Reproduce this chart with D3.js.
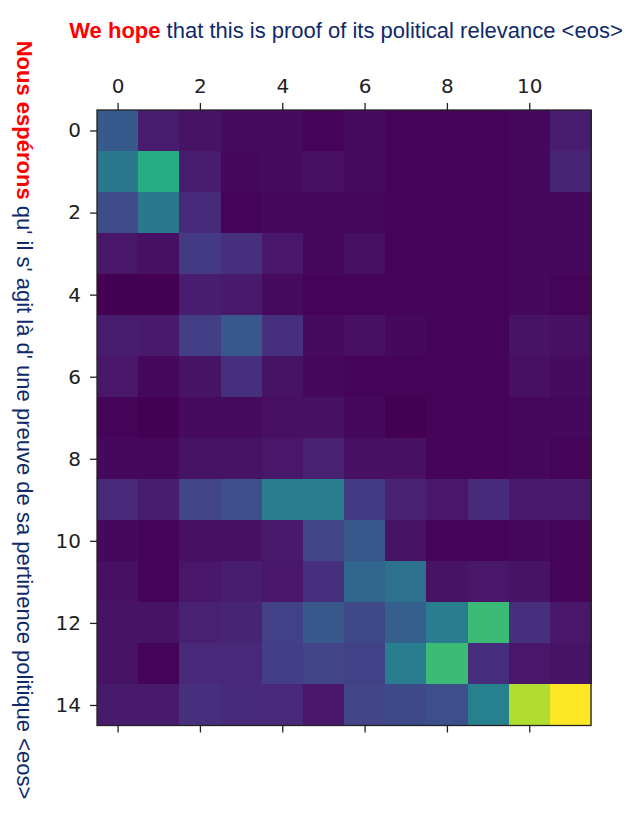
<!DOCTYPE html>
<html>
<head>
<meta charset="utf-8">
<script src="https://cdn.jsdelivr.net/npm/d3@7"></script>
<style>
  body { margin: 0; background: #fff; }
  svg { display: block; }
</style>
</head>
<body>
<script>
// source tokens (columns) and target tokens (rows)
const cols = d3.range(12)
const rows = d3.range(15)
const xTicks = [0, 2, 4, 6, 8, 10]
const yTicks = [0, 2, 4, 6, 8, 10, 12, 14]

// attention weights, one array per row (0..1)
const row0  = [0.28, 0.08, 0.05, 0.03, 0.03, 0.01, 0.03, 0.01, 0.01, 0.01, 0.02, 0.08]
const row1  = [0.40, 0.62, 0.08, 0.02, 0.03, 0.04, 0.03, 0.01, 0.01, 0.01, 0.02, 0.10]
const row2  = [0.23, 0.40, 0.12, 0.01, 0.02, 0.02, 0.02, 0.01, 0.01, 0.01, 0.02, 0.02]
const row3  = [0.06, 0.04, 0.17, 0.14, 0.06, 0.02, 0.04, 0.01, 0.01, 0.01, 0.02, 0.02]
const row4  = [0.00, 0.00, 0.08, 0.07, 0.03, 0.01, 0.01, 0.01, 0.01, 0.01, 0.02, 0.01]
const row5  = [0.08, 0.07, 0.18, 0.27, 0.14, 0.03, 0.04, 0.02, 0.01, 0.01, 0.05, 0.04]
const row6  = [0.06, 0.02, 0.05, 0.14, 0.05, 0.02, 0.01, 0.01, 0.01, 0.01, 0.04, 0.03]
const row7  = [0.01, 0.00, 0.03, 0.03, 0.04, 0.04, 0.02, 0.00, 0.01, 0.01, 0.02, 0.02]
const row8  = [0.02, 0.02, 0.05, 0.05, 0.06, 0.09, 0.04, 0.04, 0.01, 0.01, 0.02, 0.01]
const row9  = [0.11, 0.08, 0.20, 0.24, 0.42, 0.42, 0.17, 0.09, 0.06, 0.12, 0.07, 0.07]
const row10 = [0.02, 0.01, 0.04, 0.04, 0.07, 0.20, 0.27, 0.05, 0.01, 0.01, 0.02, 0.01]
const row11 = [0.04, 0.01, 0.06, 0.08, 0.06, 0.14, 0.33, 0.37, 0.05, 0.06, 0.05, 0.01]
const row12 = [0.05, 0.05, 0.09, 0.10, 0.19, 0.27, 0.22, 0.30, 0.42, 0.68, 0.14, 0.06]
const row13 = [0.05, 0.01, 0.11, 0.11, 0.18, 0.20, 0.19, 0.42, 0.68, 0.13, 0.06, 0.05]
const row14 = [0.07, 0.07, 0.14, 0.12, 0.11, 0.06, 0.20, 0.22, 0.24, 0.43, 0.88, 1.00]
const values = [row0, row1, row2, row3, row4, row5, row6, row7, row8, row9, row10, row11, row12, row13, row14]

const width = 636, height = 820
const margin = {top: 110, left: 97, right: 45, bottom: 94.5}

const svg = d3.select("body").append("svg")
    .attr("width", width)
    .attr("height", height)

const x = d3.scaleBand().domain(cols).range([margin.left, width - margin.right])
const y = d3.scaleBand().domain(rows).range([margin.top, height - margin.bottom])
const color = d3.scaleSequential(d3.interpolateViridis).domain([0, 1])

const cells = []
values.forEach((r, i) => r.forEach((v, j) => cells.push({row: i, col: j, v: v})))

svg.append("g")
    .attr("shape-rendering", "crispEdges")
  .selectAll("rect")
  .data(cells)
  .join("rect")
    .attr("x", d => x(d.col))
    .attr("y", d => y(d.row))
    .attr("width", x.bandwidth() + 0.5)
    .attr("height", y.bandwidth() + 0.5)
    .attr("fill", d => color(d.v))

// frame
svg.append("rect")
    .attr("x", margin.left)
    .attr("y", margin.top)
    .attr("width", width - margin.left - margin.right)
    .attr("height", height - margin.top - margin.bottom)
    .attr("fill", "none")
    .attr("stroke", "#222")
    .attr("stroke-width", 1.3)

// axes use the band centres
const xc = d3.scaleLinear().domain([-0.5, 11.5]).range([margin.left, width - margin.right])
const yc = d3.scaleLinear().domain([-0.5, 14.5]).range([margin.top, height - margin.bottom])

function styleAxis(g) {
  g.select(".domain").remove()
  g.selectAll(".tick line").attr("stroke", "#222").attr("stroke-width", 1.3)
  g.selectAll(".tick text")
      .attr("font-family", "DejaVu Sans, sans-serif")
      .attr("font-size", 20)
      .attr("fill", "#222")
}

svg.append("g")
    .attr("transform", `translate(0,${margin.top})`)
    .call(d3.axisTop(xc).tickValues(xTicks).tickSize(7).tickPadding(10).tickFormat(d3.format("d")))
    .call(styleAxis)

svg.append("g")
    .attr("transform", `translate(0,${height - margin.bottom})`)
    .call(d3.axisBottom(xc).tickValues(xTicks).tickSize(7).tickFormat(""))
    .call(styleAxis)

svg.append("g")
    .attr("transform", `translate(${margin.left},0)`)
    .call(d3.axisLeft(yc).tickValues(yTicks).tickSize(7).tickPadding(9).tickFormat(d3.format("d")))
    .call(styleAxis)

// titles
const navy = "#0f2a6b"
const title = svg.append("text")
    .attr("x", 346)
    .attr("y", 38)
    .attr("text-anchor", "middle")
    .attr("font-family", "Liberation Sans, Arial, sans-serif")
    .attr("font-size", 22)
    .attr("fill", navy)
title.append("tspan").attr("fill", "#ff0000").attr("font-weight", "bold").text("We hope")
title.append("tspan").text(" that this is proof of its political relevance <eos>")

const side = svg.append("text")
    .attr("transform", "translate(17,420) rotate(90)")
    .attr("text-anchor", "middle")
    .attr("font-family", "Liberation Sans, Arial, sans-serif")
    .attr("font-size", 22)
    .attr("fill", navy)
side.append("tspan").attr("fill", "#ff0000").attr("font-weight", "bold").text("Nous espérons")
side.append("tspan").text(" qu' il s' agit là d' une preuve de sa pertinence politique <eos>")
</script>
</body>
</html>
